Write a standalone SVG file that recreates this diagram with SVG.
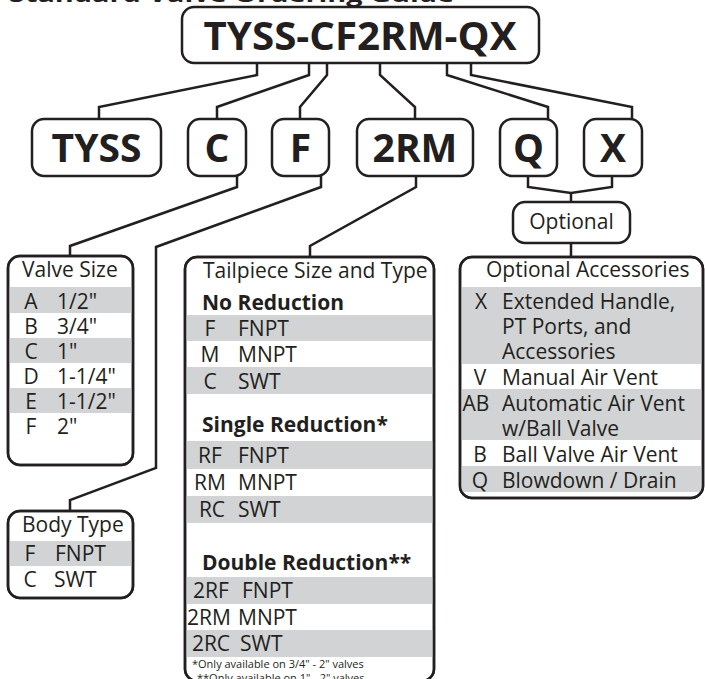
<svg xmlns="http://www.w3.org/2000/svg" width="705" height="679" viewBox="0 0 705 679">
<style>
.box{fill:#fff;stroke:#231f20;stroke-width:2.5}
.frame{fill:none;stroke:#231f20;stroke-width:2.5}
.conn{fill:none;stroke:#231f20;stroke-width:2.5;stroke-linejoin:miter}
.code{font-family:"Open Sans","Noto Sans",sans-serif;font-weight:700;font-size:39px;fill:#231f20;text-anchor:middle}
.t{font-family:"Open Sans","Noto Sans",sans-serif;font-size:21px;fill:#231f20}
.b{font-weight:700}
.m{text-anchor:middle}
.g{fill:#d1d3d4}
.fn{font-size:11px}
.ttl{font-family:"Open Sans","Noto Sans",sans-serif;font-weight:700;font-size:22px;fill:#231f20}
</style>
<defs>
<clipPath id="cv"><rect x="8" y="256" width="125" height="209" rx="12"/></clipPath>
<clipPath id="cb"><rect x="8" y="511" width="125" height="87" rx="12"/></clipPath>
<clipPath id="ct"><rect x="185" y="257" width="249" height="424" rx="12"/></clipPath>
<clipPath id="co"><rect x="460" y="257" width="243" height="241" rx="12"/></clipPath>
</defs>

<g id="title">
<text class="ttl" x="9" y="1.5" textLength="445" lengthAdjust="spacingAndGlyphs">Standard Valve Ordering Guide</text>
</g>

<g id="connectors">
<path class="conn" d="M257,63 V75 L99,107 V119"/>
<path class="conn" d="M309,63 V75 L217,107 V119"/>
<path class="conn" d="M327,63 V75 L300,107 V119"/>
<path class="conn" d="M380,63 V75 L415,107 V119"/>
<path class="conn" d="M447,63 V75 L548,107 V119"/>
<path class="conn" d="M471,63 V75 L632,107 V119"/>
<path class="conn" d="M237,176 V187 L70,246 V256"/>
<path class="conn" d="M321,176 V187 L156,247 V468 L70,500 V511"/>
<path class="conn" d="M416,176 V187 L310,246 V257"/>
<path class="conn" d="M528,176 V187 L571,193 L612,187 V176"/>
<path class="conn" d="M571,193 V202"/>
<path class="conn" d="M571,243 V257"/>
</g>

<g id="node-main">
<rect class="box" x="182" y="7" width="357" height="56" rx="12"/>
<text class="code" x="360" y="50" textLength="313" lengthAdjust="spacingAndGlyphs">TYSS-CF2RM-QX</text>
</g>

<g id="node-tyss"><rect class="box" x="32" y="119" width="129" height="57" rx="12"/><text class="code" x="96.5" y="162">TYSS</text></g>
<g id="node-c"><rect class="box" x="188" y="119" width="58" height="57" rx="12"/><text class="code" x="217" y="162">C</text></g>
<g id="node-f"><rect class="box" x="272" y="119" width="57" height="57" rx="12"/><text class="code" x="300.5" y="162">F</text></g>
<g id="node-2rm"><rect class="box" x="357" y="119" width="116" height="57" rx="12"/><text class="code" x="415" y="162">2RM</text></g>
<g id="node-q"><rect class="box" x="500" y="119" width="57" height="57" rx="12"/><text class="code" x="528.5" y="162">Q</text></g>
<g id="node-x"><rect class="box" x="584" y="119" width="58" height="57" rx="12"/><text class="code" x="613" y="162">X</text></g>

<g id="node-optional">
<rect class="box" x="513" y="202" width="117" height="41" rx="12"/>
<text class="t m" x="571.5" y="229">Optional</text>
</g>

<g id="node-valve-size">
<rect class="box" x="8" y="256" width="125" height="209" rx="12"/>
<g clip-path="url(#cv)">
<rect class="g" x="8" y="287" width="125" height="26"/>
<rect class="g" x="8" y="338" width="125" height="25"/>
<rect class="g" x="8" y="388" width="125" height="25"/>
</g>
<rect class="frame" x="8" y="256" width="125" height="209" rx="12"/>
<text class="t" x="22" y="277">Valve Size</text>
<text class="t m" x="31" y="309">A</text><text class="t" x="57" y="309">1/2"</text>
<text class="t m" x="31" y="334">B</text><text class="t" x="57" y="334">3/4"</text>
<text class="t m" x="31" y="359">C</text><text class="t" x="57" y="359">1"</text>
<text class="t m" x="31" y="384">D</text><text class="t" x="57" y="384">1-1/4"</text>
<text class="t m" x="31" y="409">E</text><text class="t" x="57" y="409">1-1/2"</text>
<text class="t m" x="31" y="434">F</text><text class="t" x="57" y="434">2"</text>
</g>

<g id="node-body-type">
<rect class="box" x="8" y="511" width="125" height="87" rx="12"/>
<g clip-path="url(#cb)">
<rect class="g" x="8" y="541" width="125" height="25"/>
</g>
<rect class="frame" x="8" y="511" width="125" height="87" rx="12"/>
<text class="t" x="22" y="532">Body Type</text>
<text class="t m" x="30" y="561">F</text><text class="t" x="55" y="561">FNPT</text>
<text class="t m" x="30" y="587">C</text><text class="t" x="54" y="587">SWT</text>
</g>

<g id="node-tailpiece">
<rect class="box" x="185" y="257" width="249" height="424" rx="12"/>
<g clip-path="url(#ct)">
<rect class="g" x="185" y="315" width="249" height="26"/>
<rect class="g" x="185" y="367" width="249" height="27"/>
<rect class="g" x="185" y="441" width="249" height="28"/>
<rect class="g" x="185" y="496" width="249" height="27"/>
<rect class="g" x="185" y="577" width="249" height="27"/>
<rect class="g" x="185" y="630" width="249" height="27"/>
</g>
<rect class="frame" x="185" y="257" width="249" height="424" rx="12"/>
<text class="t" x="203" y="278">Tailpiece Size and Type</text>
<text class="t b" x="202" y="310">No Reduction</text>
<text class="t m" x="210" y="336">F</text><text class="t" x="238" y="336">FNPT</text>
<text class="t m" x="210" y="362">M</text><text class="t" x="238" y="362">MNPT</text>
<text class="t m" x="210" y="389">C</text><text class="t" x="238" y="389">SWT</text>
<text class="t b" x="202" y="432">Single Reduction*</text>
<text class="t m" x="210" y="463">RF</text><text class="t" x="238" y="463">FNPT</text>
<text class="t m" x="210" y="490">RM</text><text class="t" x="238" y="490">MNPT</text>
<text class="t m" x="212" y="517">RC</text><text class="t" x="238" y="517">SWT</text>
<text class="t b" x="202" y="570">Double Reduction**</text>
<text class="t m" x="211" y="598">2RF</text><text class="t" x="242" y="598">FNPT</text>
<text class="t m" x="209" y="625">2RM</text><text class="t" x="238" y="625">MNPT</text>
<text class="t m" x="211" y="651">2RC</text><text class="t" x="240" y="651">SWT</text>
<text class="t fn" x="192" y="668">*Only available on 3/4" - 2" valves</text>
<text class="t fn" x="197" y="682">**Only available on 1" - 2" valves</text>
</g>

<g id="node-optional-accessories">
<rect class="box" x="460" y="257" width="243" height="241" rx="12"/>
<g clip-path="url(#co)">
<rect class="g" x="460" y="287" width="243" height="77"/>
<rect class="g" x="460" y="389" width="243" height="51"/>
<rect class="g" x="460" y="466" width="243" height="26"/>
</g>
<rect class="frame" x="460" y="257" width="243" height="241" rx="12"/>
<text class="t" x="486" y="277">Optional Accessories</text>
<text class="t m" x="481" y="309">X</text><text class="t" x="502" y="309">Extended Handle,</text>
<text class="t" x="502" y="334">PT Ports, and</text>
<text class="t" x="502" y="359">Accessories</text>
<text class="t m" x="480" y="385">V</text><text class="t" x="502" y="385">Manual Air Vent</text>
<text class="t m" x="476" y="411">AB</text><text class="t" x="502" y="411">Automatic Air Vent</text>
<text class="t" x="502" y="436">w/Ball Valve</text>
<text class="t m" x="480" y="462">B</text><text class="t" x="502" y="462">Ball Valve Air Vent</text>
<text class="t m" x="480" y="488">Q</text><text class="t" x="502" y="488">Blowdown / Drain</text>
</g>
</svg>
